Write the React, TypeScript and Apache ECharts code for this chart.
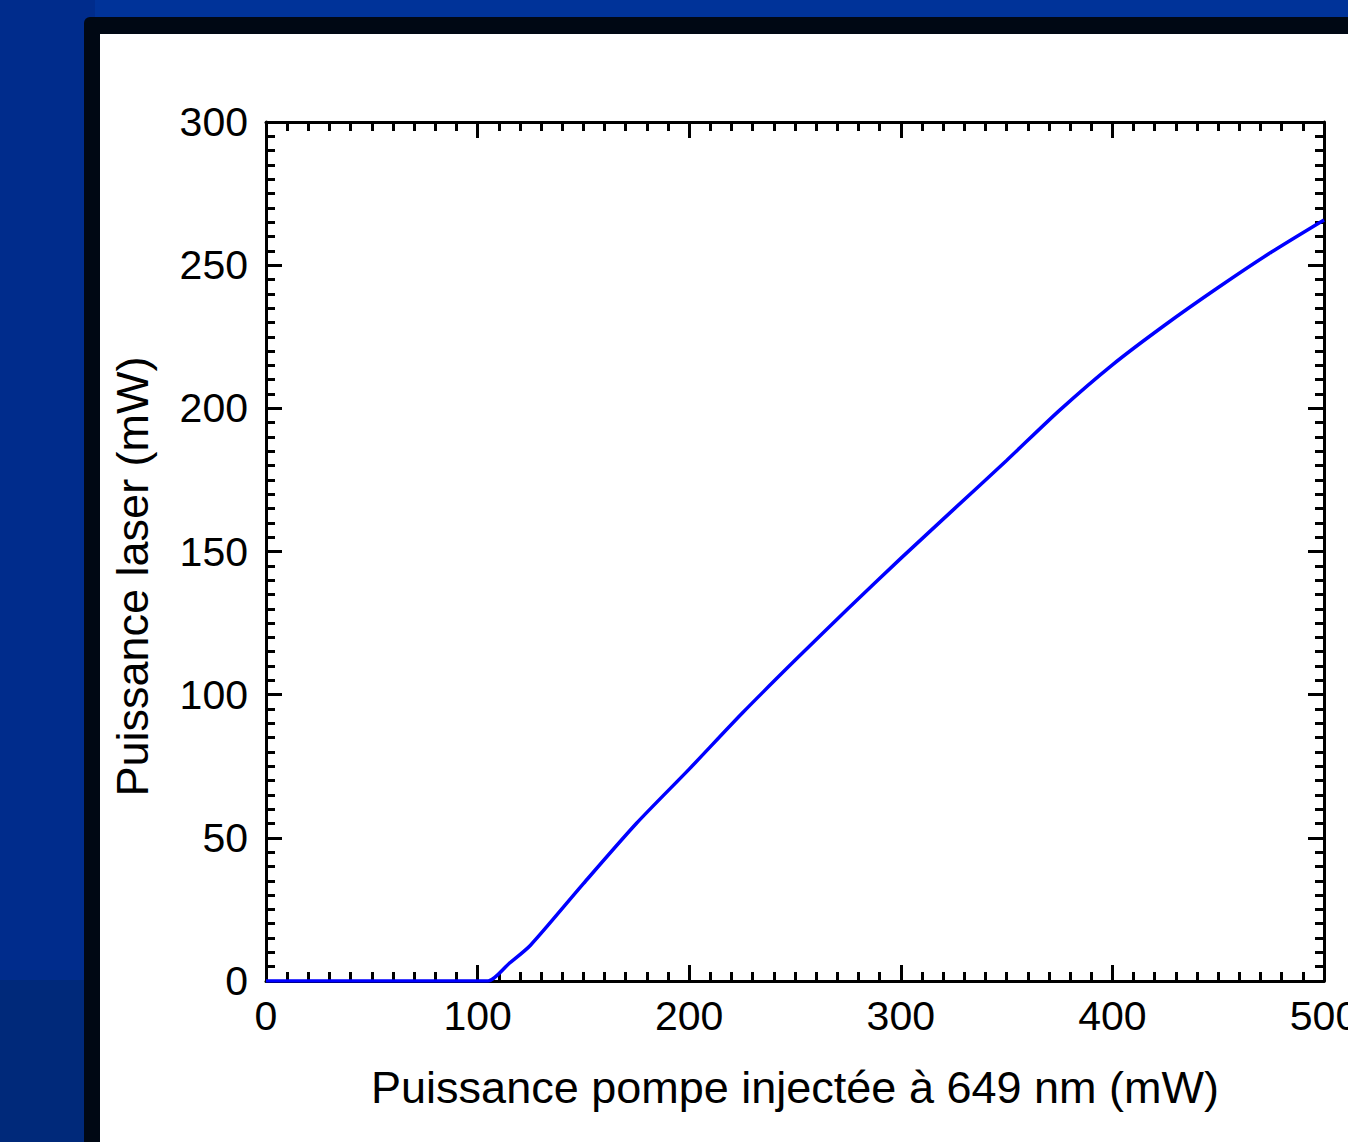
import React, { useEffect, useRef } from "react";
import * as echarts from "echarts";

const pumpPower = [0, 50, 100, 105, 115, 125, 150, 175, 200, 225, 250, 275, 300, 325, 350, 375, 400, 425, 450, 475, 500];
const laserPower = [0, 0, 0, 0, 6.2, 12.5, 34, 55, 74, 93.5, 112, 130, 147.6, 164.7, 181.8, 199.3, 215.2, 229.2, 242.2, 254.5, 265.8];

const xTitle = "Puissance pompe injectée à 649 nm (mW)";
const yTitle = "Puissance laser (mW)";

const FONT = "'Liberation Sans', Arial, sans-serif";
const W = 1348;
const H = 1142;

export default function App() {
  const ref = useRef<HTMLDivElement>(null);
  useEffect(() => {
    if (!ref.current) return;
    document.body.style.margin = "0";
    document.body.style.overflow = "hidden";
    const chart = echarts.init(ref.current, null, { renderer: "svg", width: W, height: H });
    const tickStyle = { color: "#000", width: 3 };
    const axisCommon = () => ({
      z: 3,
      axisLine: { show: true, onZero: false, lineStyle: { color: "#000", width: 3 } },
      axisTick: { show: true, inside: true, length: 16, lineStyle: tickStyle },
      minorTick: { show: true, splitNumber: 10, length: 9, lineStyle: tickStyle },
      splitLine: { show: false },
    });
    const data = pumpPower.map((x, i) => [x, laserPower[i]]);
    chart.setOption({
      animation: false,
      backgroundColor: "#002c8c",
      graphic: [
        { type: "rect", z: 0, shape: { x: 95, y: 0, width: 1253, height: 17 }, style: { fill: "#003399" } },
        { type: "rect", z: 0, shape: { x: 0, y: 980, width: 84, height: 162 }, style: { fill: "#00297a" } },
        { type: "rect", z: 0, shape: { x: 84, y: 17, width: 1300, height: 1200, r: 6 }, style: { fill: "#000814" } },
        { type: "rect", z: 0, shape: { x: 100, y: 34, width: 1260, height: 1120 }, style: { fill: "#ffffff" } },
      ],
      grid: { left: 266, right: 24, top: 122, bottom: 161, containLabel: false, outerBoundsMode: "none" },
      xAxis: [
        {
          type: "value",
          position: "bottom",
          min: 0,
          max: 500,
          interval: 100,
          name: xTitle,
          nameLocation: "middle",
          nameGap: 84,
          nameTextStyle: { fontSize: 45, fontFamily: FONT, color: "#000" },
          ...axisCommon(),
          axisLabel: { show: true, fontSize: 41, fontFamily: FONT, color: "#000", margin: 14 },
        },
        {
          type: "value",
          position: "top",
          min: 0,
          max: 500,
          interval: 100,
          ...axisCommon(),
          axisLabel: { show: false },
        },
      ],
      yAxis: [
        {
          type: "value",
          position: "left",
          min: 0,
          max: 300,
          interval: 50,
          name: yTitle,
          nameLocation: "middle",
          nameGap: 111,
          nameTextStyle: { fontSize: 45, fontFamily: FONT, color: "#000", padding: [0, 50, 0, 0] },
          ...axisCommon(),
          axisLabel: { show: true, fontSize: 41, fontFamily: FONT, color: "#000", margin: 18 },
        },
        {
          type: "value",
          position: "right",
          min: 0,
          max: 300,
          interval: 50,
          ...axisCommon(),
          axisLabel: { show: false },
        },
      ],
      series: [
        {
          type: "line",
          xAxisIndex: 0,
          yAxisIndex: 0,
          z: 4,
          data,
          showSymbol: false,
          symbol: "none",
          smooth: 0.25,
          lineStyle: { color: "#0000ff", width: 3.5 },
          clip: true,
        },
      ],
    });
    return () => chart.dispose();
  }, []);
  return (
    <div
      ref={ref}
      style={{ position: "absolute", left: 0, top: 0, width: W, height: H }}
    />
  );
}
